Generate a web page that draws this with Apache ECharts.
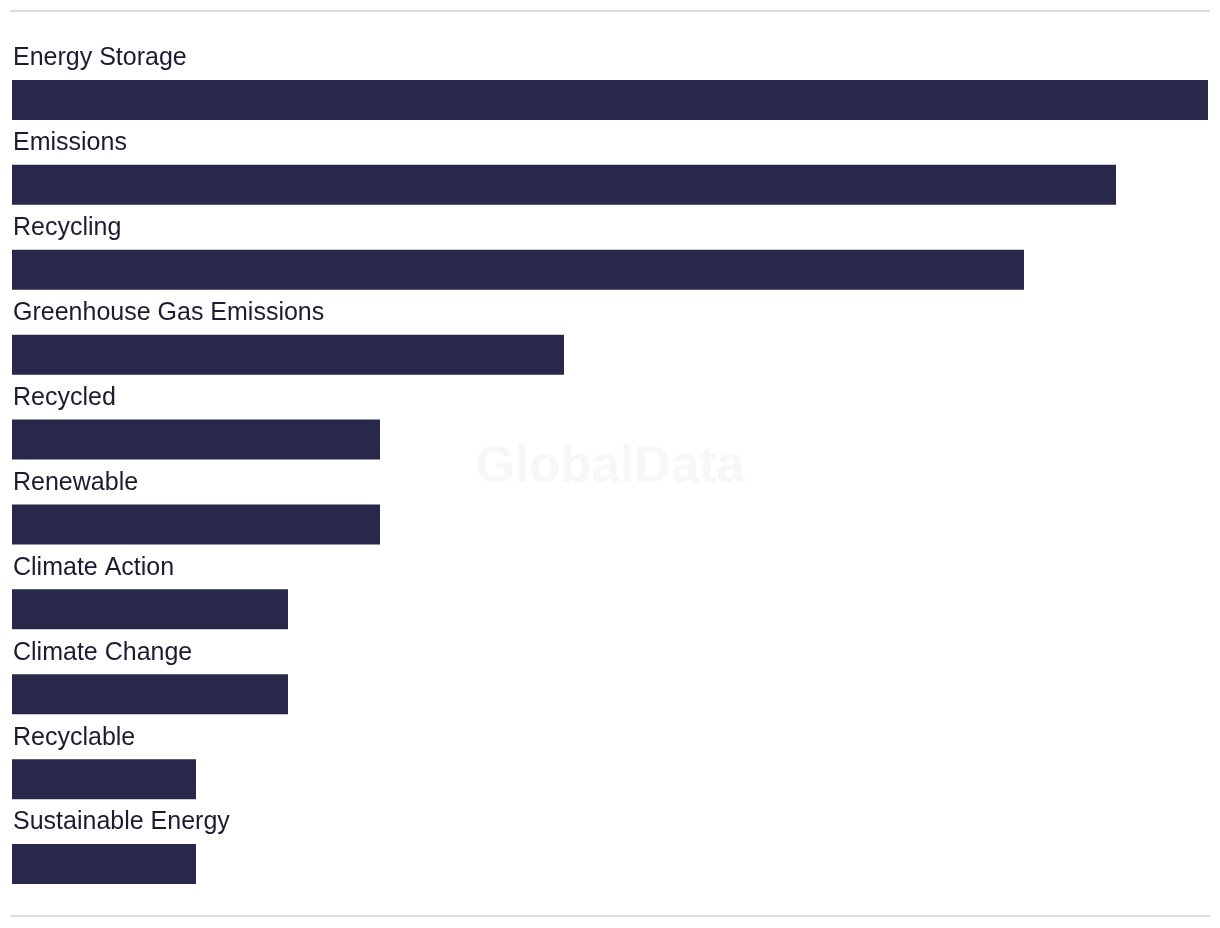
<!DOCTYPE html>
<html>
<head>
<meta charset="utf-8">
<style>html,body{margin:0;padding:0;background:#fff;}#c{width:1220px;height:928px;}</style>
<script src="https://cdn.jsdelivr.net/npm/echarts@6/dist/echarts.min.js"></script>
</head>
<body>
<div id="c"></div>
<script>
const categories = ["Energy Storage","Emissions","Recycling","Greenhouse Gas Emissions","Recycled","Renewable","Climate Action","Climate Change","Recyclable","Sustainable Energy"];
const values = [13,12,11,6,4,4,3,3,2,2];

const chart = echarts.init(document.getElementById('c'));
chart.setOption({
  animation: false,
  backgroundColor: '#ffffff',
  grid: {left: 12, right: 12, top: 57.5, height: 849},
  xAxis: {type: 'value', min: 0, max: 13, show: false},
  yAxis: {type: 'category', data: categories, inverse: true, show: false},
  graphic: [
    {type: 'rect', shape: {x: 10, y: 10, width: 1200, height: 2}, style: {fill: '#dcdcdc'}, silent: true},
    {type: 'rect', shape: {x: 10, y: 915, width: 1200, height: 2}, style: {fill: '#dcdcdc'}, silent: true},
    {type: 'text', left: 'center', top: 442, z: -1, style: {text: 'GlobalData', font: 'bold 51px "Liberation Sans", Arial, sans-serif', fill: '#f7f7f7'}, silent: true}
  ],
  series: [{
    type: 'bar',
    data: values,
    barWidth: 40,
    itemStyle: {color: '#28284a'},
    label: {
      show: true,
      position: [1, -9],
      verticalAlign: 'bottom',
      align: 'left',
      formatter: p => p.name,
      fontFamily: '"Liberation Sans", Arial, sans-serif',
      fontSize: 25,
      color: '#1c1c30'
    },
    silent: true
  }]
});
</script>
</body>
</html>
